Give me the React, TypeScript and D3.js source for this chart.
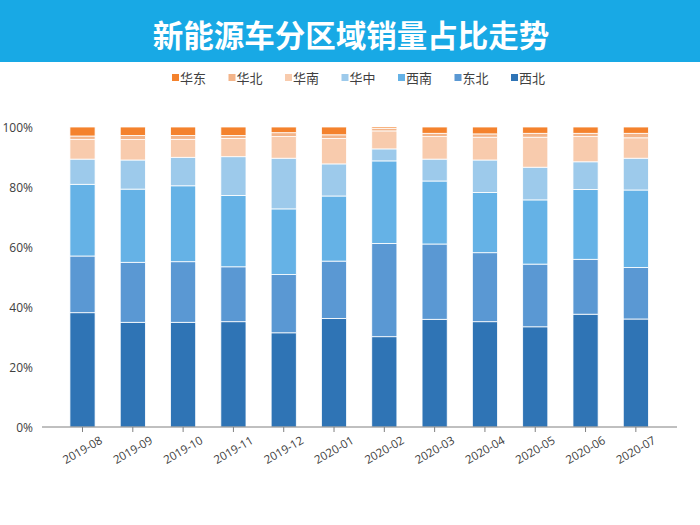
import React from "react";
import * as d3 from "d3";

const months = ["2019-08","2019-09","2019-10","2019-11","2019-12","2020-01","2020-02","2020-03","2020-04","2020-05","2020-06","2020-07"];
const xibei = [38.1, 34.9, 34.9, 35.1, 31.4, 36.2, 30.1, 35.9, 35.1, 33.4, 37.6, 36.0];
const dongbei = [18.9, 20.0, 20.2, 18.3, 19.4, 19.1, 31.1, 25.1, 23.0, 20.9, 18.3, 17.2];
const xinan = [23.9, 24.4, 25.3, 23.8, 21.9, 21.7, 27.5, 21.0, 20.1, 21.4, 23.3, 25.8];
const huazhong = [8.4, 9.7, 9.5, 12.9, 16.9, 10.7, 4.0, 7.3, 10.8, 10.9, 9.2, 10.6];
const huanan = [6.6, 6.8, 6.0, 6.1, 7.2, 8.5, 6.0, 7.5, 7.6, 10.0, 8.4, 6.8];
const huabei = [1.1, 1.4, 1.3, 1.0, 1.3, 1.2, 0.8, 1.1, 1.1, 1.3, 1.1, 1.5];
const huadong = [3.0, 2.8, 2.8, 2.8, 1.9, 2.6, 0.5, 2.1, 2.3, 2.1, 2.1, 2.1];
const yTicks = [0, 0.2, 0.4, 0.6, 0.8, 1.0];

const seriesKeys = ["西北","东北","西南","华中","华南","华北","华东"];
const seriesVals: Record<string, number[]> = { "西北": xibei, "东北": dongbei, "西南": xinan, "华中": huazhong, "华南": huanan, "华北": huabei, "华东": huadong };
const legendOrder = ["华东","华北","华南","华中","西南","东北","西北"];
const colors: Record<string, string> = {
  "华东": "#F4822D",
  "华北": "#F3B489",
  "华南": "#F8CBAD",
  "华中": "#9DCAEB",
  "西南": "#65B2E6",
  "东北": "#5A98D3",
  "西北": "#2F74B5",
};

const FONT = "'Noto Sans CJK SC', 'Noto Sans', sans-serif";

export default function App() {
  const W = 700, H = 525;
  const rows = months.map((m, i) => {
    const r: any = { month: m };
    let total = 0;
    seriesKeys.forEach(k => { total += seriesVals[k][i]; });
    seriesKeys.forEach(k => { r[k] = seriesVals[k][i] / total; });
    return r;
  });
  const stack = d3.stack<any>().keys(seriesKeys)(rows);
  const x = d3.scaleBand<string>().domain(months).range([57.35, 661]).paddingInner(0.5).paddingOuter(0.25);
  const y = d3.scaleLinear().domain([0, 1]).range([427, 127]);
  const fmt = d3.format(".0%");

  return (
    <svg width={W} height={H} style={{ position: "absolute", left: 0, top: 0, background: "#fff" }}>
      <rect x={0} y={0} width={W} height={62} fill="#18A9E5" />
      <text x={351} y={46.5} textAnchor="middle" fill="#fff" fontSize={30.5} fontWeight={700} fontFamily={FONT}>新能源车分区域销量占比走势</text>
      {legendOrder.map((k, i) => {
        const lx = 172 + i * 56.5;
        return (
          <g key={k}>
            <rect x={lx} y={74} width={7} height={7} fill={colors[k]} />
            <text x={lx + 8} y={82.5} fontSize={13} fill="#404040" fontFamily={FONT}>{k}</text>
          </g>
        );
      })}
      {yTicks.map(t => (
        <text key={t} x={33} y={y(t) + 4.5} textAnchor="end" fontSize={12} fill="#404040" fontFamily="'Open Sans', sans-serif">{fmt(t)}</text>
      ))}
      {stack.map(s => (
        <g key={s.key}>
          {s.map((d, i) => (
            <rect key={i} x={x(months[i])} y={y(d[1])} width={x.bandwidth()} height={Math.max(0, y(d[0]) - y(d[1]))}
              fill={colors[s.key]} stroke="#ffffff" strokeWidth={0.8} />
          ))}
        </g>
      ))}
      <line x1={42} x2={677} y1={427} y2={427} stroke="#808080" strokeWidth={1} />
      {months.map(m => {
        const cx = (x(m) as number) + x.bandwidth() / 2;
        return (
          <g key={m}>
            <line x1={cx} x2={cx} y1={427} y2={432} stroke="#808080" />
            <text transform={`translate(${cx},${450}) rotate(-30)`} textAnchor="middle" dy="0.35em" fontSize={11.5} fill="#404040" fontFamily="'Open Sans', sans-serif">{m}</text>
          </g>
        );
      })}
    </svg>
  );
}
